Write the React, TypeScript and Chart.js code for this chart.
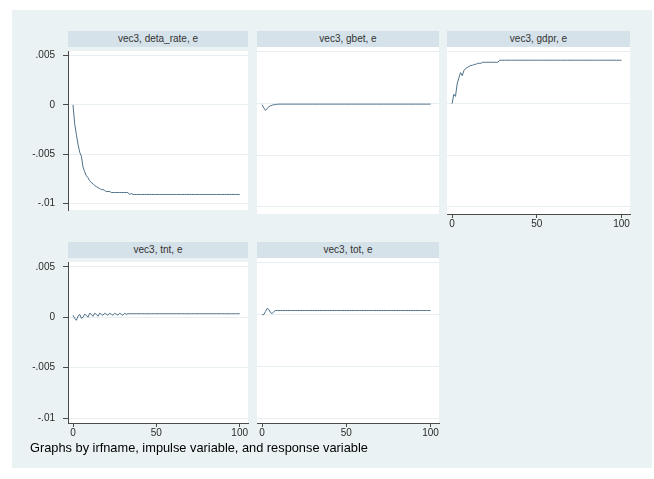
import React, { useEffect, useRef } from "react";
import { Chart, registerables } from "chart.js";

Chart.register(...registerables);

// ---- data ----
const STEPS: number[] = [
  0, 1, 2, 3, 4, 5, 6, 7, 8, 9, 10, 11, 12, 13, 14, 15, 16, 17, 18, 19,
  20, 21, 22, 23, 24, 25, 26, 27, 28, 29, 30, 31, 32, 33, 34, 35, 36, 37, 38, 39,
  40, 41, 42, 43, 44, 45, 46, 47, 48, 49, 50, 51, 52, 53, 54, 55, 56, 57, 58, 59,
  60, 61, 62, 63, 64, 65, 66, 67, 68, 69, 70, 71, 72, 73, 74, 75, 76, 77, 78, 79,
  80, 81, 82, 83, 84, 85, 86, 87, 88, 89, 90, 91, 92, 93, 94, 95, 96, 97, 98, 99,
  100,
];

const DETA_RATE: number[] = [
  0, -0.0019, -0.003, -0.004, -0.0048, -0.0052, -0.0063, -0.0068, -0.0072, -0.0074,
  -0.0077, -0.0079, -0.008, -0.0082, -0.0083, -0.0084, -0.0085, -0.0086, -0.0086, -0.0087,
  -0.0088, -0.0088, -0.0088, -0.0089, -0.0089, -0.0089, -0.0089, -0.0089, -0.0089, -0.0089,
  -0.0089, -0.0089, -0.0089, -0.0089, -0.0091, -0.009, -0.0091, -0.0091, -0.0091, -0.0091,
  -0.0091, -0.0091, -0.0091, -0.0091, -0.0091, -0.0091, -0.0091, -0.0091, -0.0091, -0.0091,
  -0.0091, -0.0091, -0.0091, -0.0091, -0.0091, -0.0091, -0.0091, -0.0091, -0.0091, -0.0091,
  -0.0091, -0.0091, -0.0091, -0.0091, -0.0091, -0.0091, -0.0091, -0.0091, -0.0091, -0.0091,
  -0.0091, -0.0091, -0.0091, -0.0091, -0.0091, -0.0091, -0.0091, -0.0091, -0.0091, -0.0091,
  -0.0091, -0.0091, -0.0091, -0.0091, -0.0091, -0.0091, -0.0091, -0.0091, -0.0091, -0.0091,
  -0.0091, -0.0091, -0.0091, -0.0091, -0.0091, -0.0091, -0.0091, -0.0091, -0.0091, -0.0091,
  -0.0091,
];

const GBET: number[] = [
  -0.0001, -0.0004, -0.00065, -0.0005, -0.0003, -0.0002, -0.00015, -0.0001, -0.0001, -0.00006,
  -0.00005, -0.00005, -0.00005, -0.00005, -0.00005, -0.00005, -0.00005, -0.00005, -0.00005, -0.00005,
  -0.00005, -0.00005, -0.00005, -0.00005, -0.00005, -0.00005, -0.00005, -0.00005, -0.00005, -0.00005,
  -0.00005, -0.00005, -0.00005, -0.00005, -0.00005, -0.00005, -0.00005, -0.00005, -0.00005, -0.00005,
  -0.00005, -0.00005, -0.00005, -0.00005, -0.00005, -0.00005, -0.00005, -0.00005, -0.00005, -0.00005,
  -0.00005, -0.00005, -0.00005, -0.00005, -0.00005, -0.00005, -0.00005, -0.00005, -0.00005, -0.00005,
  -0.00005, -0.00005, -0.00005, -0.00005, -0.00005, -0.00005, -0.00005, -0.00005, -0.00005, -0.00005,
  -0.00005, -0.00005, -0.00005, -0.00005, -0.00005, -0.00005, -0.00005, -0.00005, -0.00005, -0.00005,
  -0.00005, -0.00005, -0.00005, -0.00005, -0.00005, -0.00005, -0.00005, -0.00005, -0.00005, -0.00005,
  -0.00005, -0.00005, -0.00005, -0.00005, -0.00005, -0.00005, -0.00005, -0.00005, -0.00005, -0.00005,
  -0.00005,
];

const GDPR: number[] = [
  0, 0.0009, 0.0007, 0.0019, 0.0025, 0.003, 0.0027, 0.0032, 0.0034, 0.0035,
  0.0036, 0.0037, 0.0037, 0.0038, 0.0038, 0.0039, 0.0039, 0.0039, 0.004, 0.004,
  0.004, 0.004, 0.004, 0.004, 0.004, 0.004, 0.004, 0.004, 0.0042, 0.0042,
  0.0042, 0.0042, 0.0042, 0.0042, 0.0042, 0.0042, 0.0042, 0.0042, 0.0042, 0.0042,
  0.0042, 0.0042, 0.0042, 0.0042, 0.0042, 0.0042, 0.0042, 0.0042, 0.0042, 0.0042,
  0.0042, 0.0042, 0.0042, 0.0042, 0.0042, 0.0042, 0.0042, 0.0042, 0.0042, 0.0042,
  0.0042, 0.0042, 0.0042, 0.0042, 0.0042, 0.0042, 0.0042, 0.0042, 0.0042, 0.0042,
  0.0042, 0.0042, 0.0042, 0.0042, 0.0042, 0.0042, 0.0042, 0.0042, 0.0042, 0.0042,
  0.0042, 0.0042, 0.0042, 0.0042, 0.0042, 0.0042, 0.0042, 0.0042, 0.0042, 0.0042,
  0.0042, 0.0042, 0.0042, 0.0042, 0.0042, 0.0042, 0.0042, 0.0042, 0.0042, 0.0042,
  0.0042,
];

const TNT: number[] = [
  0.0002, -0.0001, -0.0003, 0.0001, 0.0003, -0.0001, 0.0, 0.0003, 0.0002, 0.0,
  0.0004, 0.0003, 0.0001, 0.0004, 0.0003, 0.0001, 0.0004, 0.0003, 0.0002, 0.0004,
  0.0003, 0.0002, 0.0004, 0.0003, 0.0002, 0.0004, 0.0003, 0.0002, 0.0004, 0.0003,
  0.0002, 0.0004, 0.0003, 0.00035, 0.00035, 0.00035, 0.00035, 0.00035, 0.00035, 0.00035,
  0.00035, 0.00035, 0.00035, 0.00035, 0.00035, 0.00035, 0.00035, 0.00035, 0.00035, 0.00035,
  0.00035, 0.00035, 0.00035, 0.00035, 0.00035, 0.00035, 0.00035, 0.00035, 0.00035, 0.00035,
  0.00035, 0.00035, 0.00035, 0.00035, 0.00035, 0.00035, 0.00035, 0.00035, 0.00035, 0.00035,
  0.00035, 0.00035, 0.00035, 0.00035, 0.00035, 0.00035, 0.00035, 0.00035, 0.00035, 0.00035,
  0.00035, 0.00035, 0.00035, 0.00035, 0.00035, 0.00035, 0.00035, 0.00035, 0.00035, 0.00035,
  0.00035, 0.00035, 0.00035, 0.00035, 0.00035, 0.00035, 0.00035, 0.00035, 0.00035, 0.00035,
  0.00035,
];

const TOT: number[] = [
  0, 0.0, 0.0003, 0.0006, 0.0005, 0.0002, 0.0001, 0.0003, 0.0004, 0.0004,
  0.0004, 0.0004, 0.0004, 0.0004, 0.0004, 0.0004, 0.0004, 0.0004, 0.0004, 0.0004,
  0.0004, 0.0004, 0.0004, 0.0004, 0.0004, 0.0004, 0.0004, 0.0004, 0.0004, 0.0004,
  0.0004, 0.0004, 0.0004, 0.0004, 0.0004, 0.0004, 0.0004, 0.0004, 0.0004, 0.0004,
  0.0004, 0.0004, 0.0004, 0.0004, 0.0004, 0.0004, 0.0004, 0.0004, 0.0004, 0.0004,
  0.0004, 0.0004, 0.0004, 0.0004, 0.0004, 0.0004, 0.0004, 0.0004, 0.0004, 0.0004,
  0.0004, 0.0004, 0.0004, 0.0004, 0.0004, 0.0004, 0.0004, 0.0004, 0.0004, 0.0004,
  0.0004, 0.0004, 0.0004, 0.0004, 0.0004, 0.0004, 0.0004, 0.0004, 0.0004, 0.0004,
  0.0004, 0.0004, 0.0004, 0.0004, 0.0004, 0.0004, 0.0004, 0.0004, 0.0004, 0.0004,
  0.0004, 0.0004, 0.0004, 0.0004, 0.0004, 0.0004, 0.0004, 0.0004, 0.0004, 0.0004,
  0.0004,
];

const TITLES: string[] = [
  "vec3, deta_rate, e",
  "vec3, gbet, e",
  "vec3, gdpr, e",
  "vec3, tnt, e",
  "vec3, tot, e",
];
const Y_TICKS: number[] = [-0.01, -0.005, 0, 0.005];
const X_TICKS: number[] = [0, 50, 100];
const FOOTER = "Graphs by irfname, impulse variable, and response variable";

// ---- styles ----
const OUTER_BG = "rgb(234,242,243)";
const STRIP_BG = "rgb(214,226,233)";
const GRID = "rgb(232,239,242)";
const LINE = "#4f7189";
const AXIS = "#4a4a4a";
const TEXT = "#2a2a2a";
const FONT = "'Liberation Sans', Arial, Helvetica, sans-serif";

type Rect = { left: number; right: number; top: number; bottom: number };

type PanelProps = {
  title: string;
  values: number[];
  plot: Rect;
  showY: boolean;
  showX: boolean;
  yMin: number;
  yMax: number;
};

const fmtY = (v: number): string => {
  if (v === 0) return "0";
  return String(v).replace("0.", ".");
};

const whiteBg = {
  id: "whiteBg",
  beforeDraw(chart: any) {
    const { ctx, chartArea } = chart;
    if (!chartArea) return;
    ctx.save();
    ctx.fillStyle = "#ffffff";
    ctx.fillRect(chartArea.left, chartArea.top, chartArea.right - chartArea.left, chartArea.bottom - chartArea.top);
    ctx.restore();
  },
};

function Panel({ title, values, plot, showY, showX, yMin, yMax }: PanelProps) {
  const ref = useRef<HTMLCanvasElement | null>(null);
  const Y_W = 56;
  const X_H = 20;
  const PAD = 10;
  const left = plot.left - (showY ? Y_W : PAD);
  const top = plot.top - PAD;
  const width = plot.right - left + PAD;
  const height = plot.bottom - top + (showX ? X_H : PAD);

  useEffect(() => {
    if (!ref.current) return;
    const chart = new Chart(ref.current, {
      type: "line",
      data: {
        datasets: [
          {
            data: STEPS.map((s, i) => ({ x: s, y: values[i] })),
            borderColor: LINE,
            borderWidth: 1,
            pointRadius: 0,
            tension: 0,
            fill: false,
          },
        ],
      },
      options: {
        animation: false,
        responsive: false,
        devicePixelRatio: 1,
        layout: {
          padding: { left: showY ? 0 : PAD, top: PAD, right: PAD, bottom: showX ? 0 : PAD },
        },
        plugins: {
          legend: { display: false },
          tooltip: { enabled: false },
          title: { display: false },
        },
        scales: {
          x: {
            type: "linear",
            display: showX,
            min: -3,
            max: 105,
            afterBuildTicks: (s: any) => {
              s.ticks = X_TICKS.map((v) => ({ value: v }));
            },
            afterFit: (s: any) => {
              s.height = showX ? X_H : 0;
            },
            grid: {
              display: true,
              drawOnChartArea: false,
              drawTicks: true,
              tickLength: 4,
              tickColor: AXIS,
              color: AXIS,
            },
            border: { display: true, color: AXIS, width: 1 },
            ticks: {
              padding: 0,
              maxRotation: 0,
              autoSkip: false,
              color: TEXT,
              font: { family: FONT, size: 10 },
              callback: (v: any) => String(v),
            },
          },
          y: {
            type: "linear",
            display: true,
            min: yMin,
            max: yMax,
            afterBuildTicks: (s: any) => {
              s.ticks = Y_TICKS.map((v) => ({ value: v }));
            },
            afterFit: (s: any) => {
              s.width = showY ? Y_W : 0;
            },
            grid: {
              display: true,
              drawOnChartArea: true,
              drawTicks: showY,
              tickLength: 5,
              color: GRID,
              tickColor: AXIS,
            },
            border: { display: showY, color: AXIS, width: 1 },
            ticks: {
              display: showY,
              padding: 8,
              autoSkip: false,
              color: TEXT,
              font: { family: FONT, size: 10 },
              callback: (v: any) => fmtY(Number(v)),
            },
          },
        },
      },
      plugins: [whiteBg],
    } as any);
    return () => chart.destroy();
  }, [values, showX, showY, yMin, yMax]);

  return (
    <>
      <div
        style={{
          position: "absolute",
          left: plot.left,
          top: plot.top - 16,
          width: plot.right - plot.left,
          height: 16,
          background: STRIP_BG,
          color: "#333",
          font: `10px ${FONT}`,
          lineHeight: "16px",
          textAlign: "center",
          whiteSpace: "nowrap",
        }}
      >
        {title}
      </div>
      <canvas
        ref={ref}
        width={width}
        height={height}
        style={{ position: "absolute", left, top, width, height }}
      />
    </>
  );
}

const ROW1 = { top: 47, bottom: 214, yMin: -0.01068, yMax: 0.00548 };
const ROW2 = { top: 258, bottom: 423, yMin: -0.01048, yMax: 0.00548 };
const COL1 = { left: 68, right: 248 };
const COL2 = { left: 257, right: 439 };
const COL3 = { left: 447, right: 630 };

export default function App() {
  const panels = [
    { title: TITLES[0], values: DETA_RATE, col: COL1, row: ROW1, showY: true, showX: false },
    { title: TITLES[1], values: GBET, col: COL2, row: ROW1, showY: false, showX: false },
    { title: TITLES[2], values: GDPR, col: COL3, row: ROW1, showY: false, showX: true },
    { title: TITLES[3], values: TNT, col: COL1, row: ROW2, showY: true, showX: true },
    { title: TITLES[4], values: TOT, col: COL2, row: ROW2, showY: false, showX: true },
  ];
  return (
    <div
      style={{
        position: "fixed",
        left: 0,
        top: 0,
        width: 654,
        height: 479,
        background: "#ffffff",
        overflow: "hidden",
      }}
    >
      <div
        style={{
          position: "absolute",
          left: 12,
          top: 10,
          width: 640,
          height: 458,
          background: OUTER_BG,
        }}
      />
      {panels.map((p, i) => (
        <Panel
          key={i}
          title={p.title}
          values={p.values}
          plot={{ left: p.col.left, right: p.col.right, top: p.row.top, bottom: p.row.bottom }}
          showY={p.showY}
          showX={p.showX}
          yMin={p.row.yMin}
          yMax={p.row.yMax}
        />
      ))}
      <div
        style={{
          position: "absolute",
          left: 30,
          top: 440,
          font: `12.8px ${FONT}`,
          color: "#000",
          whiteSpace: "nowrap",
          lineHeight: "16px",
        }}
      >
        {FOOTER}
      </div>
    </div>
  );
}
